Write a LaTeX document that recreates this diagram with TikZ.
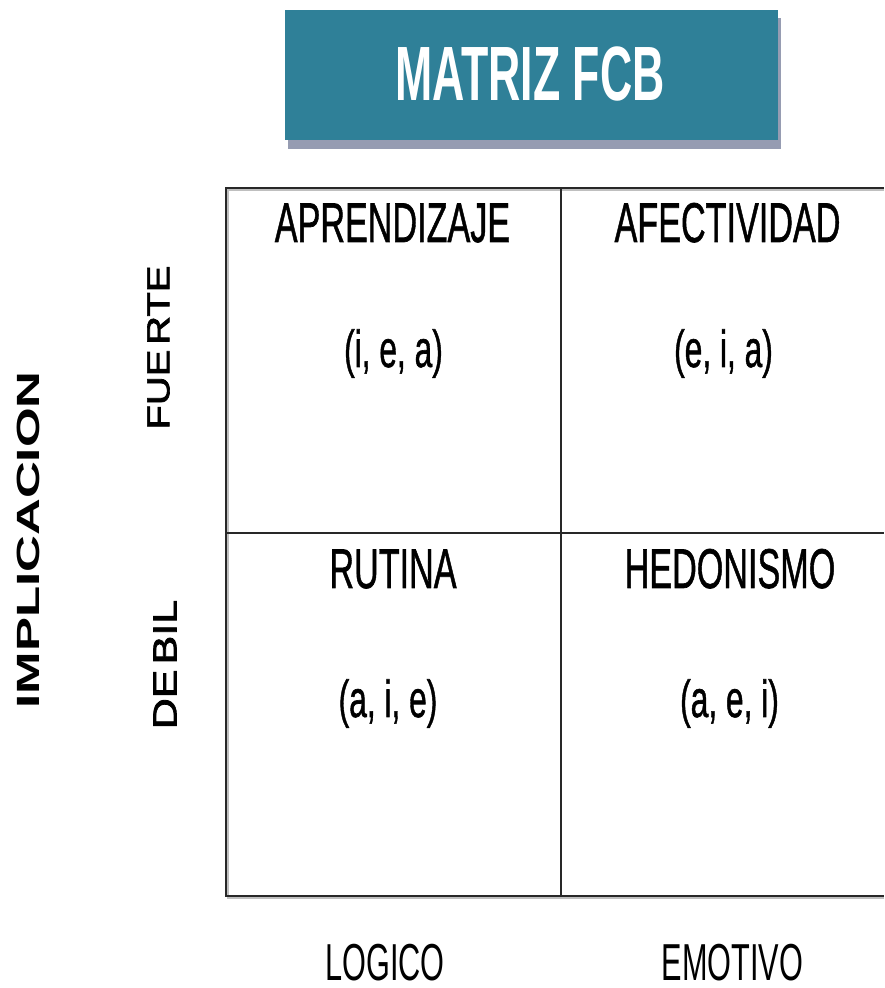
\documentclass[tikz,border=0pt]{standalone}
\usepackage{fontspec}
\setmainfont{Liberation Sans}
\newfontfamily\medfont[FakeBold=1.2]{Liberation Sans}
\newfontfamily\semifont[FakeBold=2]{Liberation Sans}
\definecolor{teal1}{RGB}{47,128,152}
\definecolor{shadow1}{RGB}{150,156,178}
\definecolor{gridc}{RGB}{40,40,40}
\tikzset{
  cell/.style={anchor=base, inner sep=0pt, font=\medfont\fontsize{56}{60}\selectfont},
  code/.style={anchor=base, inner sep=0pt, font=\medfont\fontsize{52}{56}\selectfont},
  axis/.style={anchor=base, inner sep=0pt, font=\fontsize{52}{56}\selectfont},
  side/.style={rotate=90, anchor=center, inner sep=0pt},
  gridline/.style={line width=2.6pt, draw=gridc},
  gridshadow/.style={line width=2.6pt, draw=black!25}
}
\newcommand{\cx}[1]{\scalebox{0.61}[1]{#1}}
\begin{document}
\begin{tikzpicture}[x=1pt,y=1pt]
\useasboundingbox (0,0) rectangle (884,988);
% title
\fill[shadow1] (288,839) rectangle (781,970);
\fill[teal1] (285,848) rectangle (778,978);
\node[anchor=base, inner sep=0pt, text=white, font=\fontsize{77}{80}\selectfont\bfseries] (title) at (530,887) {\scalebox{0.58}[1]{MATRIZ FCB}};
% grid
\draw[gridshadow] (884,798) -- (228,798) -- (228,90) -- (884,90);
\draw[gridline] (884,800) -- (226,800) -- (226,92) -- (884,92);
\draw[gridline] (226,455) -- (884,455);
\draw[gridline] (561,800) -- (561,92);
% cell texts
\node[cell] (apr) at (392.5,746) {\cx{APRENDIZAJE}};
\node[cell] (afe) at (727.5,746) {\cx{AFECTIVIDAD}};
\node[code] (iea) at (393.5,621) {\cx{(i, e, a)}};
\node[code] (eia) at (723.5,621) {\cx{(e, i, a)}};
\node[cell] (rut) at (393,400) {\cx{RUTINA}};
\node[cell] (hed) at (730,400) {\cx{HEDONISMO}};
\node[code] (aie) at (388,271) {\cx{(a, i, e)}};
\node[code] (aei) at (729.5,271) {\cx{(a, e, i)}};
% axis labels
\node[axis] (log) at (385,8) {\scalebox{0.59}[1]{LOGICO}};
\node[axis] (emo) at (732.5,8) {\scalebox{0.59}[1]{EMOTIVO}};
% side labels
\node[side, font=\fontsize{51}{54}\selectfont\bfseries] (impl) at (28.5,448) {\scalebox{1}[0.63]{IMPLICACION}};
\node[side, font=\semifont\fontsize{40}{44}\selectfont] (fue) at (158.5,640.5) {\scalebox{1}[0.8]{FUE\kern0.12em RTE}};
\node[side, font=\semifont\fontsize{43}{46}\selectfont] (deb) at (165,323.5) {\scalebox{1}[0.78]{DE\kern0.12em BIL}};
\end{tikzpicture}
\end{document}
